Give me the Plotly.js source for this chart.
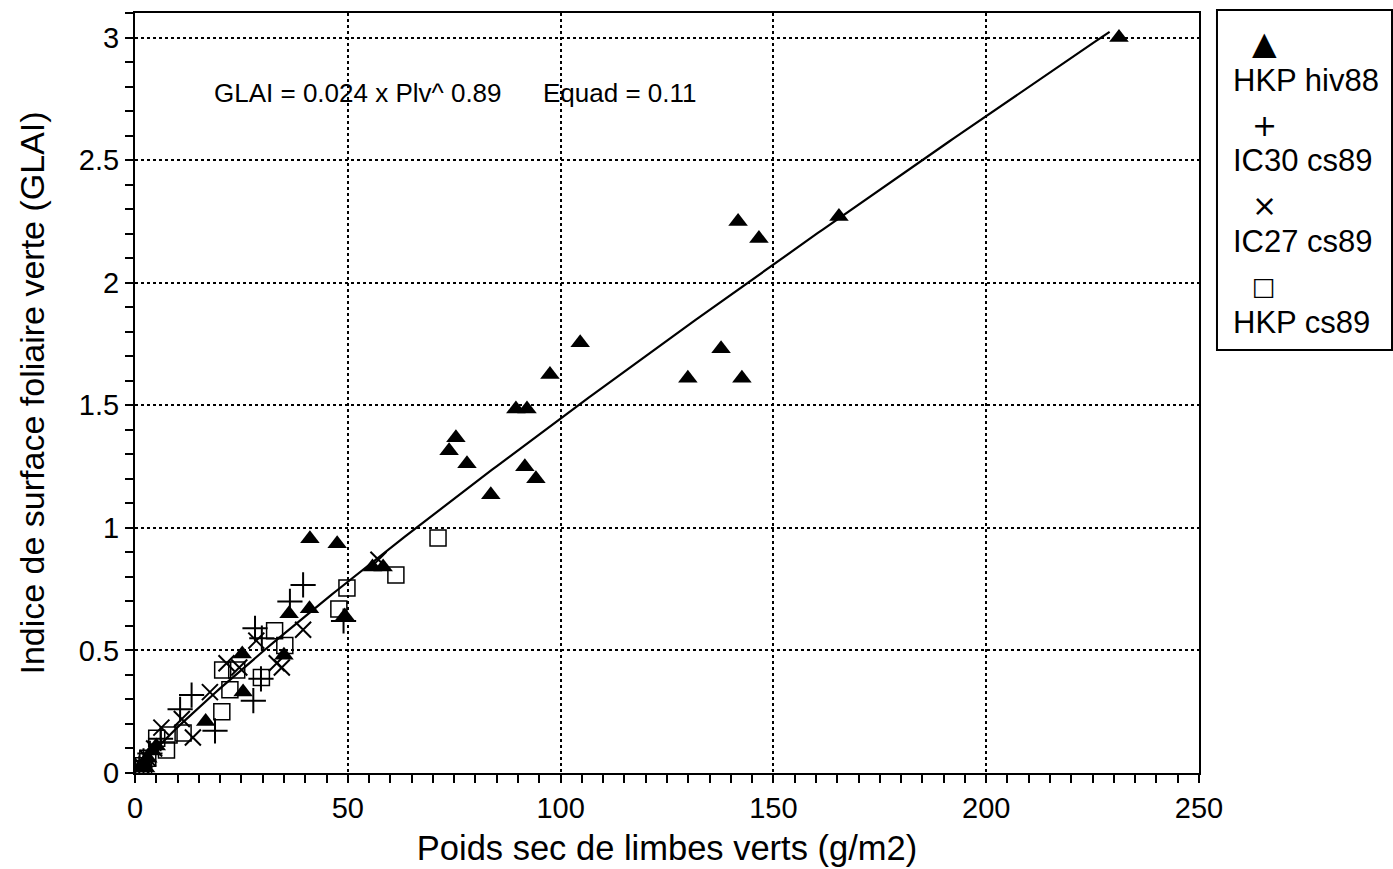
<!DOCTYPE html>
<html>
<head>
<meta charset="utf-8">
<script src="https://cdn.plot.ly/plotly-3.0.1.min.js"></script>
<style>html,body{margin:0;padding:0;background:#fff;}#chart{width:1393px;height:869px;}</style>
</head>
<body>
<div id="chart"></div>
<script>
// ---- Data ----
const seriesNames = ["HKP hiv88", "IC30 cs89", "IC27 cs89", "HKP cs89"];

const hkpHiv88X = [231.2, 165.4, 141.7, 146.6, 104.6, 137.7, 129.9, 142.6, 97.5, 89.5, 92.1, 75.4, 73.8, 78.0, 91.6, 94.2, 83.6, 41.1, 47.5, 55.8, 58.3, 49.3, 36.2, 41.0, 25.2, 35.0, 25.4, 16.6, 1.0, 2.0, 3.0, 4.0, 5.0, 2.5];
const hkpHiv88Y = [3.00, 2.27, 2.25, 2.18, 1.755, 1.73, 1.61, 1.61, 1.625, 1.485, 1.485, 1.367, 1.314, 1.261, 1.249, 1.20, 1.135, 0.955, 0.935, 0.84, 0.84, 0.64, 0.65, 0.67, 0.485, 0.48, 0.33, 0.21, 0.02, 0.04, 0.06, 0.09, 0.11, 0.02];

const ic30X = [39.5, 36.4, 28.2, 29.8, 49.0, 13.3, 10.6, 27.8, 18.8, 29.6, 6.0, 2.0, 3.5, 1.0];
const ic30Y = [0.767, 0.70, 0.59, 0.55, 0.62, 0.318, 0.26, 0.295, 0.172, 0.384, 0.14, 0.05, 0.08, 0.02];

const ic27X = [57.2, 39.5, 33.3, 28.5, 21.5, 17.6, 13.6, 6.2, 11.0, 24.5, 34.5, 3.0, 4.5, 1.5];
const ic27Y = [0.87, 0.584, 0.448, 0.54, 0.448, 0.33, 0.145, 0.185, 0.22, 0.43, 0.43, 0.06, 0.10, 0.03];

const hkpCs89X = [71.2, 61.3, 49.8, 47.9, 32.8, 35.2, 20.6, 23.9, 29.7, 22.3, 20.4, 11.3, 8.0, 7.4, 5.1, 3.0, 2.0];
const hkpCs89Y = [0.959, 0.808, 0.755, 0.669, 0.58, 0.52, 0.42, 0.42, 0.39, 0.34, 0.25, 0.163, 0.155, 0.094, 0.142, 0.06, 0.03];

// fitted relation shown on the chart: GLAI = 0.024 x Plv^0.89
const fitA = 0.024, fitB = 0.89;
const fitXmin = 0.5, fitXmax = 229;

const xTickVals = [0, 50, 100, 150, 200, 250];
const yTickVals = [0, 0.5, 1, 1.5, 2, 2.5, 3];
const yTickText = ["0", "0.5", "1", "1.5", "2", "2.5", "3"];

// ---- build fit curve from the equation ----
const fitX = [], fitY = [];
const nSteps = 200;
for (let i = 0; i <= nSteps; i++) {
  const x = fitXmin + (fitXmax - fitXmin) * i / nSteps;
  fitX.push(x);
  fitY.push(fitA * Math.pow(x, fitB));
}

const FONT = "Liberation Sans, Arial, Helvetica, sans-serif";

const traces = [
  {x: fitX, y: fitY, mode: "lines", line: {color: "#000", width: 2.2}, hoverinfo: "skip", showlegend: false},
  {x: hkpHiv88X, y: hkpHiv88Y, mode: "markers", name: seriesNames[0],
   marker: {symbol: "triangle-up", size: 17, color: "#000", line: {width: 0}}},
  {x: ic30X, y: ic30Y, mode: "markers", name: seriesNames[1],
   marker: {symbol: "cross-thin", size: 18, color: "#000", line: {color: "#000", width: 2}}},
  {x: ic27X, y: ic27Y, mode: "markers", name: seriesNames[2],
   marker: {symbol: "x-thin", size: 16, color: "#000", line: {color: "#000", width: 2}}},
  {x: hkpCs89X, y: hkpCs89Y, mode: "markers", name: seriesNames[3],
   marker: {symbol: "square-open", size: 16, color: "#000", line: {color: "#000", width: 1.5}}}
];

// legend drawn as text (symbol above label)
const legSym = ["\u25B2", "+", "\u00D7", "\u25A1"];
const legSymY = [0.9605, 0.8526, 0.7461, 0.6395];
const legTxtY = [0.9118, 0.8053, 0.6987, 0.5934];
const legSymSize = [32, 30, 30, 25];
const annotations = [
  {xref: "x", yref: "y", x: 18.1, y: 2.775, xanchor: "left", yanchor: "middle", showarrow: false,
   text: "GLAI = 0.024 x Plv^ 0.89", font: {family: FONT, size: 26, color: "#000"}},
  {xref: "x", yref: "y", x: 95.4, y: 2.775, xanchor: "left", yanchor: "middle", showarrow: false,
   text: "Equad = 0.11", font: {family: FONT, size: 26, color: "#000"}}
];
for (let i = 0; i < seriesNames.length; i++) {
  annotations.push({xref: "paper", yref: "paper", x: 1.0611, y: legSymY[i], xanchor: "center", yanchor: "middle",
    showarrow: false, text: legSym[i], font: {family: "DejaVu Sans", size: legSymSize[i], color: "#000"}});
  annotations.push({xref: "paper", yref: "paper", x: 1.0305, y: legTxtY[i], xanchor: "left", yanchor: "middle",
    showarrow: false, text: seriesNames[i], font: {family: FONT, size: 31, color: "#000"}});
}

const layout = {
  width: 1393, height: 869,
  margin: {l: 135, r: 194, t: 13, b: 96},
  paper_bgcolor: "#fff", plot_bgcolor: "#fff",
  showlegend: false,
  font: {family: FONT, color: "#000"},
  xaxis: {
    range: [0, 250], tickvals: xTickVals, ticks: "outside", ticklen: 8, tickwidth: 2, tickcolor: "#000",
    minor: {dtick: 5, tick0: 0, ticks: "outside", ticklen: 8, tickwidth: 2, tickcolor: "#000", showgrid: false},
    showline: true, linecolor: "#000", linewidth: 2, mirror: true,
    showgrid: true, gridcolor: "#000", gridwidth: 2, griddash: "dot",
    zeroline: false,
    tickfont: {family: FONT, size: 29, color: "#000"},
    title: {text: "Poids sec de limbes verts (g/m2)", font: {family: FONT, size: 34.5, color: "#000"}, standoff: 13}
  },
  yaxis: {
    range: [0, 3.1], tickvals: yTickVals, ticktext: yTickText, ticks: "outside", ticklen: 8, tickwidth: 2, tickcolor: "#000",
    minor: {dtick: 0.1, tick0: 0, ticks: "outside", ticklen: 8, tickwidth: 2, tickcolor: "#000", showgrid: false},
    showline: true, linecolor: "#000", linewidth: 2, mirror: true,
    showgrid: true, gridcolor: "#000", gridwidth: 2, griddash: "dot",
    zeroline: false,
    tickfont: {family: FONT, size: 29, color: "#000"},
    title: {text: "Indice de surface foliaire verte (GLAI)", font: {family: FONT, size: 34, color: "#000"}, standoff: 24}
  },
  shapes: [
    {type: "rect", xref: "paper", yref: "paper", x0: 1.0169, x1: 1.1814, y0: 0.5566, y1: 1.0039,
     line: {color: "#000", width: 2}, fillcolor: "rgba(0,0,0,0)"}
  ],
  annotations: annotations
};

Plotly.newPlot("chart", traces, layout, {displayModeBar: false, staticPlot: true});
</script>
</body>
</html>
